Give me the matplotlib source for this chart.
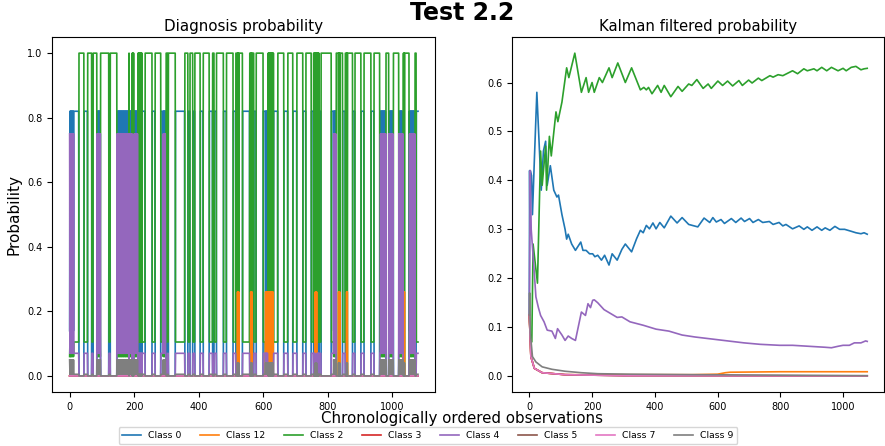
#!/usr/bin/env python3
"""
plot.py
=======
Test 2.2 : raw diagnosis probability per observation (left) and the
Kalman filtered probability (right), for the 8 classes.
Output: out.png (885x446)
"""
import matplotlib

matplotlib.use("Agg")
import matplotlib.pyplot as plt  # noqa: E402
import numpy as np  # noqa: E402

CLASSES = ["Class 0", "Class 12", "Class 2", "Class 3",
           "Class 4", "Class 5", "Class 7", "Class 9"]
N_OBS = 1080

# ---- left panel: diagnosis output, read as runs of a few typical vectors ----
# order of each vector follows CLASSES
STATE_PROBS = {
    "B": [0.82, 0.0, 0.105, 0.0, 0.07, 0.0, 0.0, 0.005],   # mostly class 0
    "G": [0.0, 0.0, 1.0, 0.0, 0.0, 0.0, 0.0, 0.0],         # class 2 sure
    "P": [0.14, 0.0, 0.06, 0.0, 0.75, 0.0, 0.0, 0.05],     # mostly class 4
    "O": [0.0, 0.26, 0.0, 0.0, 0.0, 0.0, 0.0, 0.04],       # class 12 bump
}
# observation ranges (inclusive) where class 2 is predicted
G_RUNS = [(11, 13), (29, 44), (56, 68), (73, 85), (93, 121), (126, 149),
          (171, 185), (191, 224), (234, 255), (265, 282), (299, 303),
          (306, 327), (357, 366), (373, 381), (388, 404), (414, 432),
          (443, 447), (455, 476), (486, 506), (515, 535), (558, 570),
          (578, 599), (614, 632), (645, 663), (676, 691), (704, 722),
          (732, 748), (755, 773), (779, 810), (825, 845), (854, 876),
          (884, 902), (912, 933), (943, 960), (974, 994), (1003, 1020),
          (1032, 1051), (1067, 1073)]
# ranges flickering class 2 / class 0
G_FLICKER = [(191, 224), (614, 632), (755, 773)]
# ranges flickering class 4 / class 0
P_RUNS = [(0, 13), (85, 95), (147, 183), (185, 193), (200, 211), (290, 296),
          (818, 825), (963, 979), (989, 1001), (1020, 1032), (1053, 1069)]
# short class 12 bursts
O_RUNS = [(520, 524), (561, 566), (607, 611), (614, 630), (761, 765),
          (833, 837), (858, 860), (1033, 1037)]

# ---- right panel: Kalman filtered probability (obs, value) ----
KF0_X = [0, 1, 2, 3, 7, 10, 16, 24, 38, 45, 52, 57, 67, 78, 88, 93, 104, 114,
         119, 124, 135, 147, 164, 171, 181, 192, 202, 209, 218, 230, 240, 254,
         264, 280, 295, 306, 326, 342, 354, 363, 373, 383, 394, 404, 416, 430,
         451, 471, 487, 508, 537, 557, 575, 585, 596, 611, 622, 644, 658, 675,
         686, 702, 713, 730, 744, 765, 777, 796, 808, 818, 839, 860, 875, 886,
         901, 917, 932, 943, 958, 974, 989, 1005, 1026, 1041, 1057, 1067, 1077]
KF0_Y = [0.125, 0.42, 0.30, 0.42, 0.41, 0.33, 0.44, 0.58, 0.38, 0.46, 0.48,
         0.39, 0.43, 0.38, 0.366, 0.37, 0.33, 0.30, 0.28, 0.29, 0.27, 0.257,
         0.274, 0.257, 0.257, 0.25, 0.25, 0.244, 0.247, 0.237, 0.247, 0.227,
         0.25, 0.237, 0.259, 0.27, 0.254, 0.281, 0.298, 0.293, 0.308, 0.301,
         0.313, 0.301, 0.314, 0.303, 0.327, 0.313, 0.324, 0.31, 0.305, 0.323,
         0.314, 0.324, 0.315, 0.32, 0.312, 0.322, 0.314, 0.323, 0.316, 0.322,
         0.314, 0.32, 0.314, 0.316, 0.31, 0.314, 0.307, 0.31, 0.301, 0.307,
         0.30, 0.305, 0.298, 0.305, 0.298, 0.303, 0.298, 0.306, 0.30, 0.30,
         0.296, 0.293, 0.291, 0.293, 0.29]
KF2_X = [0, 4, 8, 12, 26, 36, 41, 52, 55, 64, 70, 85, 91, 104, 119, 126, 145,
         166, 181, 189, 200, 207, 223, 233, 254, 264, 282, 306, 326, 354, 365,
         373, 380, 391, 409, 420, 430, 451, 474, 487, 508, 518, 534, 554, 570,
         580, 601, 616, 632, 648, 668, 679, 699, 710, 730, 741, 767, 777, 793,
         808, 839, 855, 875, 886, 907, 917, 932, 948, 963, 984, 1000, 1010,
         1026, 1041, 1057, 1067, 1077]
KF2_Y = [0.125, 0.07, 0.07, 0.27, 0.19, 0.46, 0.39, 0.47, 0.38, 0.49, 0.45,
         0.54, 0.52, 0.56, 0.63, 0.61, 0.66, 0.58, 0.61, 0.58, 0.60, 0.58,
         0.61, 0.60, 0.63, 0.61, 0.64, 0.60, 0.63, 0.585, 0.59, 0.585, 0.59,
         0.577, 0.594, 0.58, 0.594, 0.571, 0.592, 0.582, 0.597, 0.594, 0.606,
         0.588, 0.597, 0.588, 0.603, 0.594, 0.603, 0.593, 0.604, 0.594, 0.605,
         0.599, 0.609, 0.604, 0.614, 0.611, 0.616, 0.614, 0.624, 0.618, 0.628,
         0.624, 0.628, 0.624, 0.631, 0.624, 0.631, 0.624, 0.629, 0.624, 0.631,
         0.633, 0.626, 0.628, 0.629]
KF4_X = [0, 2, 3, 6, 10, 16, 21, 29, 36, 47, 57, 72, 83, 90, 104, 114, 124,
         135, 147, 166, 179, 187, 195, 202, 207, 218, 238, 259, 280, 295, 321,
         363, 404, 445, 487, 528, 580, 632, 684, 736, 798, 839, 891, 943, 963,
         984, 1000, 1020, 1036, 1057, 1072, 1077]
KF4_Y = [0.125, 0.32, 0.42, 0.30, 0.264, 0.21, 0.162, 0.14, 0.124, 0.111,
         0.094, 0.092, 0.077, 0.097, 0.084, 0.073, 0.082, 0.077, 0.073, 0.131,
         0.124, 0.148, 0.14, 0.155, 0.156, 0.15, 0.136, 0.128, 0.12, 0.121,
         0.111, 0.104, 0.096, 0.092, 0.084, 0.08, 0.076, 0.072, 0.068, 0.065,
         0.063, 0.063, 0.061, 0.059, 0.058, 0.061, 0.063, 0.063, 0.068, 0.068,
         0.072, 0.071]
KF9_X = [0, 1, 3, 10, 21, 41, 72, 114, 166, 218, 321, 528, 1077]
KF9_Y = [0.125, 0.17, 0.09, 0.04, 0.029, 0.019, 0.014, 0.01, 0.007, 0.005,
         0.004, 0.003, 0.001]
KF12_X = [0, 5, 16, 41, 114, 520, 600, 625, 640, 800, 1077]
KF12_Y = [0.125, 0.04, 0.016, 0.007, 0.003, 0.003, 0.004, 0.007, 0.008,
          0.009, 0.009]
KF_SMALL_X = [0, 5, 16, 41, 114, 300, 1077]      # classes 3, 5, 7
KF_SMALL_Y = [0.125, 0.04, 0.016, 0.007, 0.003, 0.001, 0.0005]

# left panel drawing order (class 12 bursts over class 2, under class 4)
DRAW_ORDER = [0, 2, 1, 3, 4, 5, 6, 7]


def diagnosis_matrix():
    """Rows = observations, columns = CLASSES, built from the runs above."""
    s = np.array(["B"] * N_OBS, dtype=object)
    for a, b in G_RUNS:
        s[a:b + 1] = "G"
    for a, b in G_FLICKER:
        s[a:b + 1:2] = "B"
    for a, b in P_RUNS:
        s[a:b + 1] = "B"
        s[a:b + 1:2] = "P"
    for a, b in O_RUNS:
        s[a:b + 1:2] = "O"
    return np.array([STATE_PROBS[k] for k in s])


def main():
    probs = diagnosis_matrix()
    obs = np.arange(N_OBS)

    kalman = [(KF0_X, KF0_Y), (KF12_X, KF12_Y), (KF2_X, KF2_Y),
              (KF_SMALL_X, KF_SMALL_Y), (KF4_X, KF4_Y),
              (KF_SMALL_X, KF_SMALL_Y), (KF_SMALL_X, KF_SMALL_Y),
              (KF9_X, KF9_Y)]

    fig = plt.figure(figsize=(8.85, 4.46), dpi=100)
    ax1 = fig.add_axes([0.059, 0.121, 0.433, 0.796])
    ax2 = fig.add_axes([0.579, 0.121, 0.420, 0.796])

    handles = {}
    for i in DRAW_ORDER:
        (h,) = ax1.plot(obs, probs[:, i], color=f"C{i}", lw=1.2,
                        label=CLASSES[i])
        handles[i] = h
    for i, (kx, ky) in enumerate(kalman):
        ax2.plot(kx, ky, color=f"C{i}", lw=1.2)

    ax1.set_title("Diagnosis probability", fontsize=10.9, pad=4)
    ax2.set_title("Kalman filtered probability", fontsize=10.7, pad=4)
    ax1.set_ylabel("Probability", fontsize=11)
    for ax in (ax1, ax2):
        ax.tick_params(labelsize=7)

    fig.suptitle("Test 2.2", fontsize=17, fontweight="bold", x=0.522, y=0.998)
    fig.text(0.5215, 0.062, "Chronologically ordered observations",
             ha="center", va="center", fontsize=10.8)
    fig.legend([handles[i] for i in range(len(CLASSES))], CLASSES,
               loc="lower center", ncol=8, fontsize=6.7,
               bbox_to_anchor=(0.4836, -0.005), frameon=True)

    fig.savefig("out.png", dpi=100)
    plt.close(fig)


if __name__ == "__main__":
    main()
